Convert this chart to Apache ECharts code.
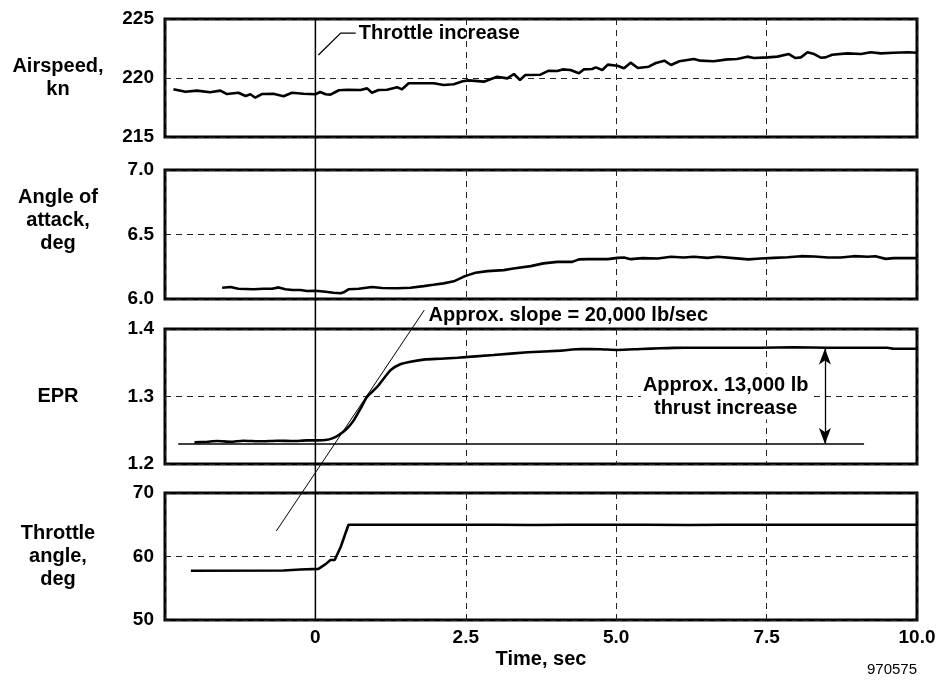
<!DOCTYPE html>
<html><head><meta charset="utf-8">
<script src="https://cdn.jsdelivr.net/npm/echarts@6/dist/echarts.min.js"></script>
<style>html,body{margin:0;padding:0;background:#fff}#c{width:939px;height:681px}</style>
</head><body><div id="c"></div><script>
// ---- data ----
const airT = [-2.36,-2.16,-1.97,-1.75,-1.58,-1.47,-1.28,-1.16,-1.08,-1.00,-0.89,-0.70,-0.53,-0.39,-0.20,0,0.08,0.17,0.25,0.39,0.53,0.75,0.86,0.94,1.05,1.19,1.36,1.44,1.55,1.75,1.97,2.13,2.30,2.45,2.55,2.80,3.02,3.19,3.30,3.40,3.49,3.74,3.88,4.02,4.11,4.24,4.38,4.46,4.60,4.66,4.77,4.86,5.02,5.13,5.24,5.36,5.54,5.66,5.80,5.91,6.05,6.29,6.40,6.62,6.85,7.01,7.18,7.29,7.52,7.68,7.87,7.98,8.07,8.18,8.29,8.40,8.48,8.59,8.84,9.07,9.23,9.40,9.61,9.85,10.0];
const airV = [219.04,218.84,218.93,218.79,218.93,218.64,218.75,218.47,218.62,218.33,218.64,218.67,218.45,218.75,218.67,218.62,218.81,218.62,218.59,218.96,219.0,218.98,219.12,218.75,218.98,219.0,219.21,219.04,219.55,219.55,219.55,219.41,219.47,219.72,219.8,219.69,220.11,219.97,220.34,219.83,220.25,220.28,220.62,220.59,220.73,220.68,220.4,220.73,220.76,220.9,220.68,221.13,221.04,220.82,221.3,220.85,220.96,221.27,221.47,221.1,221.42,221.61,221.47,221.42,221.58,221.61,221.81,221.69,221.75,221.81,222.03,221.69,221.75,222.18,222.03,221.72,221.75,221.97,222.09,222.03,222.18,222.09,222.14,222.18,222.14];

const aoaT = [-1.55,-1.41,-1.28,-1.03,-0.86,-0.72,-0.61,-0.50,-0.38,-0.25,-0.14,0,0.17,0.30,0.42,0.47,0.55,0.72,0.94,1.11,1.36,1.58,1.80,1.96,2.13,2.30,2.46,2.55,2.66,2.86,3.13,3.29,3.58,3.79,4.02,4.27,4.38,4.54,4.86,5.02,5.13,5.24,5.44,5.69,5.91,6.12,6.29,6.52,6.69,6.95,7.20,7.40,7.62,7.85,8.07,8.29,8.52,8.73,8.95,9.18,9.31,9.48,9.61,10.0];
const aoaV = [6.087,6.093,6.08,6.075,6.08,6.08,6.09,6.075,6.07,6.07,6.062,6.064,6.056,6.049,6.044,6.052,6.075,6.08,6.093,6.085,6.083,6.087,6.1,6.11,6.121,6.137,6.172,6.187,6.203,6.216,6.224,6.237,6.255,6.276,6.288,6.288,6.307,6.309,6.309,6.319,6.322,6.309,6.317,6.314,6.327,6.322,6.327,6.319,6.327,6.317,6.307,6.314,6.319,6.324,6.332,6.33,6.322,6.322,6.332,6.327,6.332,6.311,6.317,6.317];

const eprT = [-2.01,-1.80,-1.63,-1.41,-1.20,-0.91,-0.63,-0.36,-0.14,0.03,0.17,0.28,0.39,0.53,0.64,0.75,0.86,1.03,1.25,1.41,1.58,1.83,2.08,2.36,2.96,3.53,4.08,4.41,4.74,5.02,5.41,5.74,5.96,6.29,6.85,7.40,7.95,8.52,9.07,9.51,9.61,10.0];
const eprV = [1.232,1.233,1.234,1.233,1.2345,1.2336,1.2345,1.234,1.235,1.235,1.2356,1.238,1.243,1.253,1.265,1.282,1.2997,1.3145,1.339,1.3477,1.3516,1.355,1.356,1.3575,1.3615,1.3655,1.368,1.3704,1.37,1.369,1.3704,1.3714,1.372,1.3723,1.3723,1.3723,1.373,1.3723,1.3723,1.3723,1.3708,1.3708];

const thrT = [-2.07,-0.53,-0.25,0.05,0.17,0.25,0.32,0.42,0.55,3.0,3.6,4.2,5.5,6.2,6.8,10.0];
const thrV = [57.75,57.8,57.95,58.05,58.8,59.45,59.45,61.5,65.0,65.0,64.95,65.0,65.0,64.97,65.0,65.0];

// annotation values
const leaderT = [0.05,0.42,0.67];
const leaderV = [221.95,223.8,223.8];
const slopeT = [-0.65,1.81];
const slopeV = [1.1007,1.428];
const baseT = [-2.28,9.12];
const baseV = [1.2296,1.2296];
const arrowT = 8.47, arrowTop = 1.371;

const panelNames = ['Airspeed,\nkn','Angle of\nattack,\ndeg','EPR','Throttle\nangle,\ndeg'];
const yRanges = [[215,225,5],[6.0,7.0,0.5],[1.2,1.4,0.1],[50,70,10]];
const yDec = [0,1,1,0];
const xRange = [-2.5,10,2.5];

const FONT = '"Liberation Sans", Arial, Helvetica, sans-serif';
const zip = (a,b)=>a.map((v,i)=>[v,b[i]]);

const grids = [
  {left:165,right:22,top:19,height:118},
  {left:165,right:22,top:170,height:129},
  {left:165,right:22,top:329,height:135},
  {left:165,right:22,top:493,height:127}
].map(g=>Object.assign(g,{show:true,borderColor:'#000',borderWidth:3,backgroundColor:'transparent'}));

const dash = {show:true,lineStyle:{type:[6,5],color:'#222',width:1}};

const xAxes = grids.map((g,i)=>({
  type:'value', gridIndex:i, min:xRange[0], max:xRange[1], interval:xRange[2],
  axisLine:{show:false}, axisTick:{show:false}, splitLine:dash,
  axisLabel: i===3 ? {show:true, color:'#000', fontSize:19, fontWeight:'bold', fontFamily:FONT, margin:8,
     formatter:v=> v < -1 ? '' : (v===0 ? '0' : v.toFixed(1))} : {show:false},
  name: i===3 ? 'Time, sec' : '', nameLocation:'middle', nameGap:29,
  nameTextStyle:{color:'#000',fontSize:20,fontWeight:'bold',fontFamily:FONT}
}));
const yAxes = grids.map((g,i)=>({
  type:'value', gridIndex:i, min:yRanges[i][0], max:yRanges[i][1], interval:yRanges[i][2],
  axisLine:{show:false}, axisTick:{show:false}, splitLine:dash,
  axisLabel:{color:'#000',fontSize:19,fontWeight:'bold',fontFamily:FONT,margin:11,
     formatter:v=>v.toFixed(yDec[i])}
}));

const dataLine = (t,v,i,extra)=>Object.assign({
  type:'line', xAxisIndex:i, yAxisIndex:i, data:zip(t,v), showSymbol:false, symbol:'none',
  lineStyle:{color:'#000',width:2.6}, silent:true, animation:false
}, extra||{});

const option = {
  animation:false,
  backgroundColor:'#fff',
  grid:grids, xAxis:xAxes, yAxis:yAxes,
  series:[
    dataLine(airT,airV,0),
    dataLine(aoaT,aoaV,1),
    dataLine(eprT,eprV,2,{smooth:0.2}),
    dataLine(thrT,thrV,3),
    dataLine(leaderT,leaderV,0,{lineStyle:{color:'#000',width:1.3}, clip:false}),
    dataLine(slopeT,slopeV,2,{lineStyle:{color:'#000',width:1}, clip:false, z:5}),
    dataLine(baseT,baseV,2,{lineStyle:{color:'#000',width:1.3},
      markLine:{silent:true, symbol:['arrow','arrow'], symbolSize:[9,16], animation:false,
        lineStyle:{color:'#000',width:1.3,type:'solid'}, label:{show:false},
        data:[[{coord:[arrowT,baseV[0]]},{coord:[arrowT,arrowTop]}]]}})
  ]
};

const chart = echarts.init(document.getElementById('c'), null, {renderer:'canvas'});
chart.setOption(option);

const px = (g,pt)=>chart.convertToPixel({gridIndex:g},pt);
const top0 = px(0,[0,yRanges[0][1]]);
const bot3 = px(3,[0,yRanges[3][0]]);
const bold20 = 'bold 20px ' + FONT;
const labelOffsets = [0,-14,0,0];
const graphics = [
  {type:'line', z:100, shape:{x1:top0[0],y1:top0[1],x2:bot3[0],y2:bot3[1]}, style:{stroke:'#000',lineWidth:1.5}}
];
grids.forEach((g,i)=>{
  graphics.push({type:'text', z:100, x:58, y:g.top+g.height/2+labelOffsets[i],
    style:{text:panelNames[i], font:bold20, fill:'#000', align:'center', verticalAlign:'middle', lineHeight:23}});
});
const tInc = px(0,[0.72,223.8]);
graphics.push({type:'text', z:100, x:tInc[0], y:tInc[1],
  style:{text:'Throttle increase', font:bold20, fill:'#000', align:'left', verticalAlign:'middle'}});
const tSlope = px(2,[1.88,1.4207]);
graphics.push({type:'text', z:100, x:tSlope[0], y:tSlope[1],
  style:{text:'Approx. slope = 20,000 lb/sec', font:bold20, fill:'#000', align:'left', verticalAlign:'middle'}});
const tThr = px(2,[6.82,1.3]);
graphics.push({type:'text', z:100, x:tThr[0], y:tThr[1],
  style:{text:'Approx. 13,000 lb\nthrust increase', font:bold20, fill:'#000', align:'center', verticalAlign:'middle',
    lineHeight:23, backgroundColor:'#fff', padding:[0,2]}});
graphics.push({type:'text', z:100, x:917, y:670,
  style:{text:'970575', font:'15px ' + FONT, fill:'#000', align:'right', verticalAlign:'middle'}});
chart.setOption({graphic:graphics});
</script></body></html>
